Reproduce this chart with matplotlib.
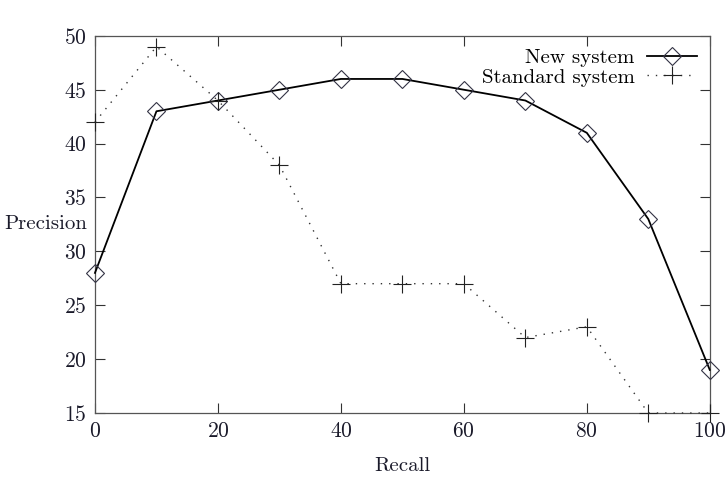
import matplotlib
matplotlib.use("Agg")
import matplotlib.pyplot as plt

recall = [0, 10, 20, 30, 40, 50, 60, 70, 80, 90, 100]
new_system = [28, 43, 44, 45, 46, 46, 45, 44, 41, 33, 19]
standard_system = [42, 49, 44, 38, 27, 27, 27, 22, 23, 15, 15]
xticks = [0, 20, 40, 60, 80, 100]
yticks = [15, 20, 25, 30, 35, 40, 45, 50]

plt.rcParams['font.family'] = ['cmr10', 'DejaVu Serif']
plt.rcParams['axes.formatter.use_mathtext'] = True

fig = plt.figure(figsize=(7.25, 4.78), dpi=100)
ax = fig.add_axes([0.131, 0.136, 0.848, 0.789])

ax.plot(recall, new_system, color='black', lw=1.3, marker='D', markersize=9,
        markerfacecolor='none', markeredgecolor='#333344', markeredgewidth=0.8,
        label='New system', clip_on=False, zorder=3)
ax.plot(recall, standard_system, color='#333333', lw=1.0, linestyle=(0, (1, 5)),
        marker='+', markersize=13, markeredgewidth=0.8, markeredgecolor='#222222',
        label='Standard system', clip_on=False, zorder=3)

ax.set_xlim(0, 100)
ax.set_ylim(15, 50)
ax.set_xticks(xticks)
ax.set_yticks(yticks)
ax.tick_params(direction='in', top=True, right=True, length=7, width=0.8,
               labelsize=15.5, colors='#333333', labelcolor='#1a1a2a', pad=6)
for s in ax.spines.values():
    s.set_color('#555555')
    s.set_linewidth(0.9)

ax.set_xlabel('Recall', fontsize=15, color='#1a1a2a', labelpad=12)
ax.set_ylabel('Precision', fontsize=15, color='#1a1a2a', rotation=0,
              ha='right', va='center', labelpad=2)
ax.yaxis.set_label_coords(-0.012, 0.5)

leg = ax.legend(loc='upper right', frameon=False, markerfirst=False, fontsize=15,
                handlelength=2.4, handletextpad=0.6, labelspacing=0.05,
                borderaxespad=0.2)

fig.savefig('out.png', dpi=100)
